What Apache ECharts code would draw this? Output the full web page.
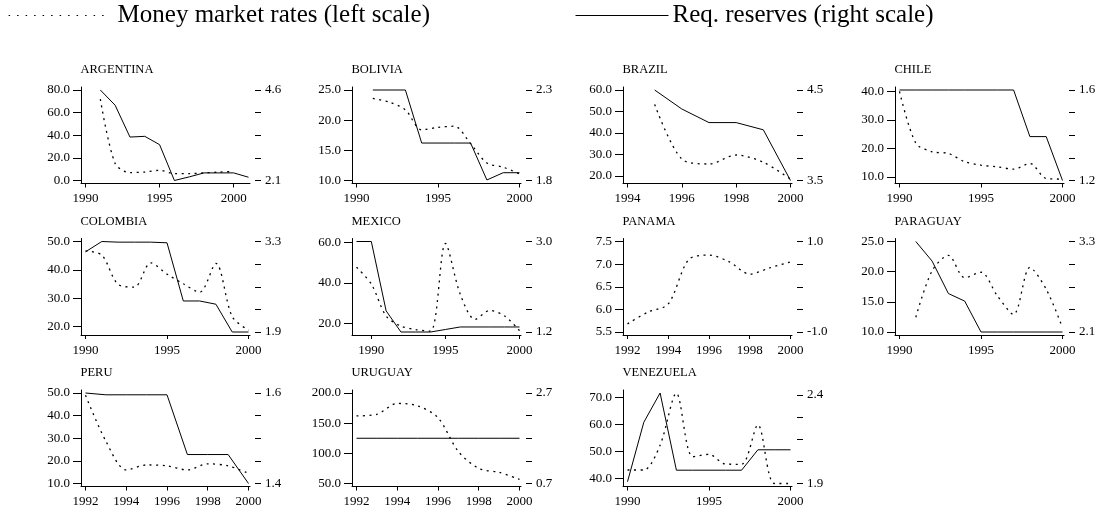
<!DOCTYPE html>
<html><head><meta charset="utf-8">
<script src="https://cdn.jsdelivr.net/npm/echarts@6/dist/echarts.min.js"></script>
<style>html,body{margin:0;padding:0;background:#fff}#c{width:1102px;height:514px}</style>
</head><body><div id="c"></div>
<script>
// ---- data ----
const argYears = [1991,1992,1993,1994,1995,1996,1997,1998,1999,2000,2001];
const argMoney = [72,15,7,7.5,9,6,6,6.8,7.4,8,null];
const argReserves = [4.6,4.18,3.3,3.32,3.09,2.1,2.2,2.31,2.31,2.31,2.19];

const bolYears = [1991,1992,1993,1994,1995,1996,1997,1998,1999,2000];
const bolMoney = [23.6,23,21.7,18.4,18.8,19,16.1,12.9,12.2,11.1];
const bolReserves = [2.3,2.3,2.3,2.007,2.007,2.007,2.007,1.803,1.843,1.843];

const braYears = [1995,1996,1997,1998,1999,2000];
const braMoney = [53.3,27.8,25.5,29.7,26.3,18.4];
const braReserves = [4.5,4.29,4.14,4.14,4.06,3.5];

const chiYears = [1990,1991,1992,1993,1994,1995,1996,1997,1998,1999,2000];
const chiMoney = [40,21.8,18.8,18.2,15.3,14.1,13.5,12.7,14.7,9.4,9.2];
const chiReserves = [1.6,1.6,1.6,1.6,1.6,1.6,1.6,1.6,1.394,1.394,1.2];

const colYears = [1990,1991,1992,1993,1994,1995,1996,1997,1998,1999,2000];
const colMoney = [46.7,45.2,34.9,33.9,42.5,38.5,35.1,32.1,42.3,23.5,18.7];
const colReserves = [3.14,3.3,3.29,3.29,3.29,3.28,2.38,2.38,2.33,1.9,1.9];

const mexYears = [1989,1990,1991,1992,1993,1994,1995,1996,1997,1998,1999,2000];
const mexMoney = [47.8,39.5,23.7,18.7,17,16.2,59.5,34.5,22,26.5,23.7,16.5];
const mexReserves = [3.0,3.0,1.62,1.2,1.2,1.2,1.25,1.3,1.3,1.3,1.3,1.3];

const panYears = [1992,1993,1994,1995,1996,1997,1998,1999,2000];
const panMoney = [5.68,5.94,6.12,7.1,7.2,7.05,6.78,6.92,7.05];
const panReserves = [null,null,null,null,null,null,null,null,null];

const parYears = [1991,1992,1993,1994,1995,1996,1997,1998,1999,2000];
const parMoney = [12.45,20.15,22.7,19,19.9,16,12.9,20.7,17.1,10.7];
const parReserves = [3.3,3.04,2.61,2.51,2.1,2.1,2.1,2.1,2.1,2.1];

const perYears = [1992,1993,1994,1995,1996,1997,1998,1999,2000];
const perMoney = [49,28.7,16,18.2,17.8,16,18.7,17.8,14.5];
const perReserves = [1.6,1.596,1.596,1.596,1.596,1.464,1.464,1.464,1.4];

const uruYears = [1992,1993,1994,1995,1996,1997,1998,1999,2000];
const uruMoney = [162,164.7,182.7,178.7,159,103,75,68.5,56.7];
const uruReserves = [1.7,1.7,1.7,1.7,1.7,1.7,1.7,1.7,1.7];

const venYears = [1990,1991,1992,1993,1994,1995,1996,1997,1998,1999,2000];
const venMoney = [43.1,43.1,52.3,71.5,48,48.9,45.3,45.2,59.8,38.1,38.1];
const venReserves = [1.91,2.245,2.41,1.975,1.975,1.975,1.975,1.975,2.09,2.09,2.09];

// tick labels
const xTicks5 = [1990,1995,2000];
const xTicks2from1992 = [1992,1994,1996,1998,2000];
const xTicks2from1994 = [1994,1996,1998,2000];
const argLeftTicks = [0,20,40,60,80];
const bolLeftTicks = [10,15,20,25];
const braLeftTicks = [20,30,40,50,60];
const chiLeftTicks = [10,20,30,40];
const colLeftTicks = [20,30,40,50];
const mexLeftTicks = [20,40,60];
const panLeftTicks = [5.5,6,6.5,7,7.5];
const parLeftTicks = [10,15,20,25];
const perLeftTicks = [10,20,30,40,50];
const uruLeftTicks = [50,100,150,200];
const venLeftTicks = [40,50,60,70];

const moneyName = 'Money market rates (left scale)';
const resName = 'Req. reserves (right scale)';

// panel table (scale ranges: [low, high] of each axis)
const panels = [
  {name:'ARGENTINA', years:argYears, money:argMoney, res:argReserves, xt:xTicks5, lt:argLeftTicks, lr:[0,80], rt:[2.1,4.6], rr:[2.1,4.6]},
  {name:'BOLIVIA', years:bolYears, money:bolMoney, res:bolReserves, xt:xTicks5, lt:bolLeftTicks, lr:[10,25], rt:[1.8,2.3], rr:[1.8,2.3]},
  {name:'BRAZIL', years:braYears, money:braMoney, res:braReserves, xt:xTicks2from1994, lt:braLeftTicks, lr:[17.8,60], rt:[3.5,4.5], rr:[3.5,4.5]},
  {name:'CHILE', years:chiYears, money:chiMoney, res:chiReserves, xt:xTicks5, lt:chiLeftTicks, lr:[8.7,40.5], rt:[1.2,1.6], rr:[1.2,1.6]},
  {name:'COLOMBIA', years:colYears, money:colMoney, res:colReserves, xt:xTicks5, lt:colLeftTicks, lr:[18.1,50], rt:[1.9,3.3], rr:[1.9,3.3]},
  {name:'MEXICO', years:mexYears, money:mexMoney, res:mexReserves, xt:xTicks5, lt:mexLeftTicks, lr:[15.8,60.5], rt:[1.2,3.0], rr:[1.2,3.0]},
  {name:'PANAMA', years:panYears, money:panMoney, res:panReserves, xt:xTicks2from1992, lt:panLeftTicks, lr:[5.5,7.5], rt:[-1,1], rr:[-1,1]},
  {name:'PARAGUAY', years:parYears, money:parMoney, res:parReserves, xt:xTicks5, lt:parLeftTicks, lr:[10,25], rt:[2.1,3.3], rr:[2.1,3.3]},
  {name:'PERU', years:perYears, money:perMoney, res:perReserves, xt:xTicks2from1992, lt:perLeftTicks, lr:[10,50], rt:[1.4,1.6], rr:[1.4,1.6]},
  {name:'URUGUAY', years:uruYears, money:uruMoney, res:uruReserves, xt:xTicks2from1992, lt:uruLeftTicks, lr:[50,200], rt:[0.7,2.7], rr:[0.7,2.7]},
  {name:'VENEZUELA', years:venYears, money:venMoney, res:venReserves, xt:xTicks5, lt:venLeftTicks, lr:[38.1,71.6], rt:[1.9,2.4], rr:[1.9,2.41]}
];

// ---- layout / style ----
const FONT = 'Liberation Serif';
const colLeft = [81, 352, 623, 895];
const gridW = 169, gridH = 96.5, rowTop0 = 87, rowStep = 151.5;
const padY = 3, padXL = 4.5, padXR = 1.5;
const dotType = [2, 4.5];

const grids = [], xAxes = [], yAxes = [], series = [], titles = [];
panels.forEach((p, i) => {
  const col = i % 4, row = Math.floor(i / 4);
  const left = colLeft[col], top = rowTop0 + row * rowStep;
  grids.push({left: left, top: top, width: gridW, height: gridH});
  titles.push({text: p.name, left: left - 0.5, top: top - 23.5, padding: 0,
    textStyle: {fontFamily: FONT, fontSize: 12.5, fontWeight: 'normal', color: '#000', lineHeight: 13}});
  const yrs = p.years;
  const lo = Math.min(p.xt[0], yrs[0]);
  const hi = Math.max(p.xt[p.xt.length - 1], yrs[yrs.length - 1]);
  const sx = (gridW - padXL - padXR) / (hi - lo);
  xAxes.push({type: 'value', gridIndex: i, min: lo - padXL / sx, max: hi + padXR / sx,
    axisLine: {show: true, onZero: false, lineStyle: {color: '#000', width: 1}},
    axisTick: {show: true, customValues: p.xt, length: 4, lineStyle: {color: '#000', width: 1}},
    axisLabel: {customValues: p.xt, margin: 9, fontSize: 13, fontFamily: FONT, color: '#000', formatter: v => String(Math.round(v))},
    splitLine: {show: false}});
  const dataH = gridH - 2 * padY;
  const ext = r => { const s = dataH / (r[1] - r[0]); return [r[0] - padY / s, r[1] + padY / s]; };
  const le = ext(p.lr), re = ext(p.rr);
  yAxes.push({type: 'value', gridIndex: i, position: 'left', min: le[0], max: le[1],
    axisLine: {show: true, onZero: false, lineStyle: {color: '#000', width: 1}},
    axisTick: {show: true, customValues: p.lt, length: 8, lineStyle: {color: '#000', width: 1}},
    axisLabel: {customValues: p.lt, margin: 11, fontSize: 13, fontFamily: FONT, color: '#000', formatter: v => v.toFixed(1)},
    splitLine: {show: false}});
  const rt = [];
  for (let k = 0; k < 5; k++) rt.push(p.rt[0] + (p.rt[1] - p.rt[0]) * k / 4);
  yAxes.push({type: 'value', gridIndex: i, position: 'right', offset: 5, min: re[0], max: re[1],
    axisLine: {show: false, onZero: false},
    axisTick: {show: true, customValues: rt, length: 6, lineStyle: {color: '#000', width: 1}},
    axisLabel: {customValues: [p.rt[0], p.rt[1]], margin: 10, fontSize: 13, fontFamily: FONT, color: '#000', formatter: v => v.toFixed(1)},
    splitLine: {show: false}});
  series.push({type: 'line', name: moneyName, xAxisIndex: i, yAxisIndex: 2 * i,
    data: yrs.map((y, k) => [y, p.money[k]]), smooth: 0.3, symbol: 'none', silent: true,
    itemStyle: {color: '#000'},
    lineStyle: {color: '#000', width: 1.3, type: dotType}, connectNulls: false});
  series.push({type: 'line', name: resName, xAxisIndex: i, yAxisIndex: 2 * i + 1,
    data: yrs.map((y, k) => [y, p.res[k]]), symbol: 'none', silent: true,
    itemStyle: {color: '#000'},
    lineStyle: {color: '#000', width: 1, type: 'solid'}});
});

const chart = echarts.init(document.getElementById('c'), null, {renderer: 'canvas'});
chart.setOption({
  animation: false,
  backgroundColor: '#fff',
  title: titles,
  legend: [
    {left: 8, top: 3, padding: 0, data: [moneyName], itemWidth: 100, itemHeight: 14, selectedMode: false,
      itemStyle: {opacity: 0},
      lineStyle: {type: [1.5, 7], width: 1.2, color: '#000', opacity: 1},
      textStyle: {fontFamily: FONT, fontSize: 25, color: '#000', padding: [0, 0, 0, 4]}},
    {left: 575, top: 3, padding: 0, data: [resName], itemWidth: 93, itemHeight: 14, selectedMode: false,
      itemStyle: {opacity: 0},
      lineStyle: {type: 'solid', width: 1, color: '#000', opacity: 1},
      textStyle: {fontFamily: FONT, fontSize: 25, color: '#000', padding: [0, 0, 0, -1]}}
  ],
  grid: grids,
  xAxis: xAxes,
  yAxis: yAxes,
  series: series
});
</script>
</body></html>
